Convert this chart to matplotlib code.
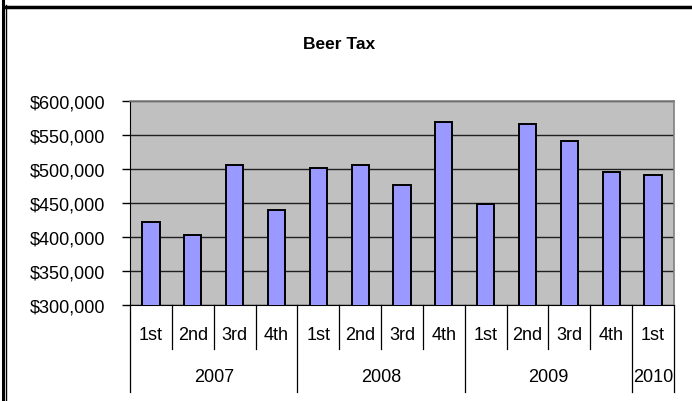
import matplotlib
matplotlib.use("Agg")
import matplotlib.pyplot as plt
from matplotlib.lines import Line2D
from matplotlib.ticker import FuncFormatter

plt.rcParams['font.family'] = ['Liberation Sans', 'DejaVu Sans']

# quarterly beer tax receipts
quarters = ["1st", "2nd", "3rd", "4th", "1st", "2nd", "3rd", "4th",
            "1st", "2nd", "3rd", "4th", "1st"]
years = ["2007", "2008", "2009", "2010"]
quarters_per_year = [4, 4, 4, 1]
tax = [422500, 403000, 506000, 440000, 502000, 506000, 477000, 568500,
       448500, 566000, 541500, 495500, 490500]

fig = plt.figure(figsize=(6.92, 4.02), dpi=100)
ax = fig.add_axes([0.1879, 0.2396, 0.786, 0.5067])
ax.set_facecolor("#C0C0C0")

x = list(range(len(tax)))
ax.bar(x, tax, width=0.41, color="#9999FF", edgecolor="black", linewidth=1.4, zorder=3)

ax.set_xlim(-0.5, len(tax) - 0.5)
ax.set_ylim(300000, 600000)
ax.set_yticks(range(300000, 600001, 50000))
ax.yaxis.set_major_formatter(FuncFormatter(lambda v, p: f"${v:,.0f}"))
ax.tick_params(axis="y", length=6, width=1, pad=12, labelsize=13)
ax.set_xticks([])
ax.grid(axis="y", color="#202020", linewidth=1, zorder=1)

for side in ("top", "right"):
    ax.spines[side].set_color("#808080")
    ax.spines[side].set_linewidth(1.2)
ax.spines["left"].set_color("black")
ax.spines["bottom"].set_color("black")

fig.text(0.49, 0.89, "Beer Tax", ha="center", va="center", fontsize=12.5, fontweight="bold")

# two-level category axis
tr = ax.get_xaxis_transform()
for i, q in enumerate(quarters):
    ax.text(i, -0.145, q, transform=tr, ha="center", va="center", fontsize=13)

year_edges = [-0.5]
for n in quarters_per_year:
    year_edges.append(year_edges[-1] + n)
for b in range(len(tax) + 1):
    xb = b - 0.5
    if xb in year_edges:
        ax.plot([xb, xb], [0, -0.43], transform=tr, color="black", lw=0.9, clip_on=False)
    else:
        ax.plot([xb, xb], [0, -0.22], transform=tr, color="black", lw=0.9, clip_on=False)
for k, yr in enumerate(years):
    ax.text((year_edges[k] + year_edges[k + 1]) / 2, -0.355, yr, transform=tr,
            ha="center", va="center", fontsize=13)

# outer frame of the screenshot
fig.add_artist(Line2D([0.005, 0.005], [0, 1], transform=fig.transFigure, color="black", lw=2.2))
fig.add_artist(Line2D([0.0088, 0.0088], [0, 0.985], transform=fig.transFigure, color="black", lw=1))
fig.add_artist(Line2D([0.0088, 1], [0.98, 0.98], transform=fig.transFigure, color="black", lw=2.5))

fig.savefig("out.png", dpi=100)
